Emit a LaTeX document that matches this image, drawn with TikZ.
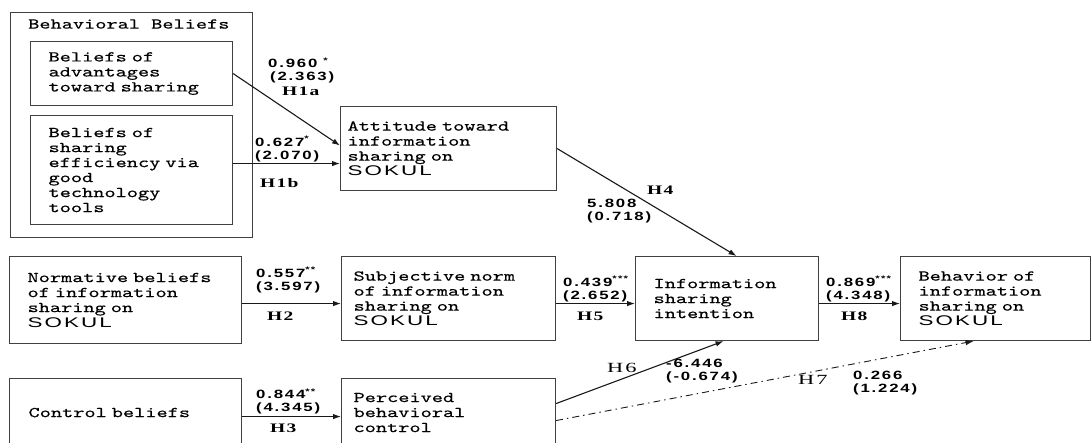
\documentclass[tikz,border=0pt]{standalone}
\usepackage{fontspec}
\newfontfamily\boxfam{lmmono10-regular.otf}[FakeStretch=1.42,FakeBold=0.4]
\newfontfamily\sokulfont{Liberation Sans}[FakeStretch=1.6,LetterSpace=15]
\newfontfamily\numfont{Liberation Sans}[FakeStretch=1.4,LetterSpace=15]
\newfontfamily\hypfont{Liberation Serif}[FakeStretch=1.5,LetterSpace=10]
\newfontfamily\hypregfont{Liberation Serif}[FakeStretch=1.6,LetterSpace=15]
\usetikzlibrary{arrows.meta}
\newcommand\boxfont{\boxfam\fontsize{15}{15}\selectfont}
\newcommand\SOKUL{{\sokulfont\fontsize{14}{15}\selectfont SOKUL}}
\newcommand\numsz{\numfont\bfseries\fontsize{12}{13}\selectfont}
\newcommand\stars[1]{\textsuperscript{#1}}
\tikzset{
  box/.style={draw=black!75, line width=1.1pt, rectangle, align=left,
    anchor=north west, inner ysep=0pt, font=\boxfont},
  arr/.style={draw=black!90, line width=1.1pt, -{Latex[length=8pt,width=5.5pt]}},
  dasharr/.style={arr, line width=0.9pt, dash pattern=on 7pt off 4pt on 1.5pt off 4pt},
  numlab/.style={anchor=west, inner sep=0pt, align=left, font=\numsz},
  hlab/.style={anchor=west, inner sep=0pt, font=\hypfont\bfseries\fontsize{13}{15}\selectfont},
  hlabreg/.style={anchor=west, inner sep=0pt, font=\hypregfont\fontsize{14}{15}\selectfont}
}
\begin{document}
\begin{tikzpicture}[x=1pt,y=-1pt]
\useasboundingbox (0,0) rectangle (1092,442);
\clip (0,0) rectangle (1092,442);
% outer group
\node[draw=black!75, line width=1.1pt, rectangle, anchor=north west, inner sep=0pt,
  minimum width=242pt, minimum height=225pt] (bb) at (10,12) {};
\node[anchor=west, inner sep=0pt, font=\boxfont] (bbl) at (28,24) {Behavioral Beliefs};
% boxes
\node[box, minimum height=64pt, text width=166pt, inner xsep=18pt] (b1) at (30,41)
  {Beliefs of\\advantages\\toward sharing};
\node[box, minimum height=109pt, text width=166pt, inner xsep=18pt] (b2) at (30,115)
  {Beliefs of\\sharing\\efficiency via\\good\\technology\\tools};
\node[box, minimum height=84pt, text width=202pt, inner xsep=7pt] (att) at (340,106)
  {Attitude toward\\information\\sharing on\\\SOKUL};
\node[box, minimum height=87pt, text width=196pt, inner xsep=18pt] (norm) at (9,256)
  {Normative beliefs\\of information\\sharing on\\\SOKUL};
\node[box, minimum height=84pt, text width=190pt, inner xsep=12pt] (subj) at (341,256)
  {Subjective norm\\of information\\sharing on\\\SOKUL};
\node[box, minimum height=84pt, text width=147pt, inner xsep=18pt] (intent) at (635,256)
  {Information\\sharing\\intention};
\node[box, minimum height=84pt, text width=154pt, inner xsep=18pt] (behav) at (900,256)
  {Behavior of\\information\\sharing on\\\SOKUL};
\node[box, minimum height=68pt, text width=194pt, inner xsep=19pt] (ctrl) at (9,378)
  {Control beliefs};
\node[box, minimum height=68pt, text width=190pt, inner xsep=12pt] (perc) at (341,378)
  {Perceived\\behavioral\\control};
% connectors
\draw[arr] (b1.east) -- ([yshift=3pt]att.west);
\draw[arr] ([yshift=6.5pt]b2.east) -- ([yshift=6.5pt]b2.east -| att.west);
\draw[arr] (att.east) -- ([xshift=9.5pt]intent.north);
\draw[arr] ([yshift=-3.5pt]norm.east) -- ([yshift=-3.5pt]norm.east -| subj.west);
\draw[arr] ([yshift=-5pt]subj.east) -- ([yshift=-5pt]subj.east -| intent.west);
\draw[arr] ([yshift=-5pt]intent.east) -- ([yshift=-5pt]intent.east -| behav.west);
\draw[arr] ([yshift=-4pt]ctrl.east) -- ([yshift=-4pt]ctrl.east -| perc.west);
\draw[arr] ([yshift=9pt]perc.east) -- ([xshift=-3.5pt]intent.south);
\draw[dasharr] ([yshift=-8pt]perc.east) -- ([xshift=-22pt]behav.south);
% labels
\node[numlab] (l1a) at (268,70.5) {0.960\kern6pt\stars{*}\\\,(2.363)};
\node[hlab] (h1a) at (282,91) {H1a};
\node[numlab] (l1b) at (255,149) {0.627\stars{*}\\(2.070)};
\node[hlab] (h1b) at (260,183) {H1b};
\node[hlab] (h4) at (647,190) {H4};
\node[numlab] (l4) at (587,211.5) {5.808\\(0.718)};
\node[numlab] (l2) at (256,280) {0.557\stars{**}\\(3.597)};
\node[hlab] (h2) at (267,316) {H2};
\node[numlab] (l3) at (256,401.5) {0.844\stars{**}\\(4.345)};
\node[hlab] (h3) at (270,428) {H3};
\node[numlab] (l5) at (563,289) {0.439\stars{***}\\(2.652)};
\node[hlab] (h5) at (577,316) {H5};
\node[numlab] (l8) at (826,289) {0.869\stars{***}\\(4.348)};
\node[hlab] (h8) at (841,316) {H8};
\node[hlabreg] (h6) at (607,368) {H6};
\node[numlab] (l6) at (666,371.5) {-6.446\\(-0.674)};
\node[hlabreg] (h7) at (798,380) {H7};
\node[numlab] (l7) at (853,383.5) {0.266\\(1.224)};
\end{tikzpicture}
\end{document}
